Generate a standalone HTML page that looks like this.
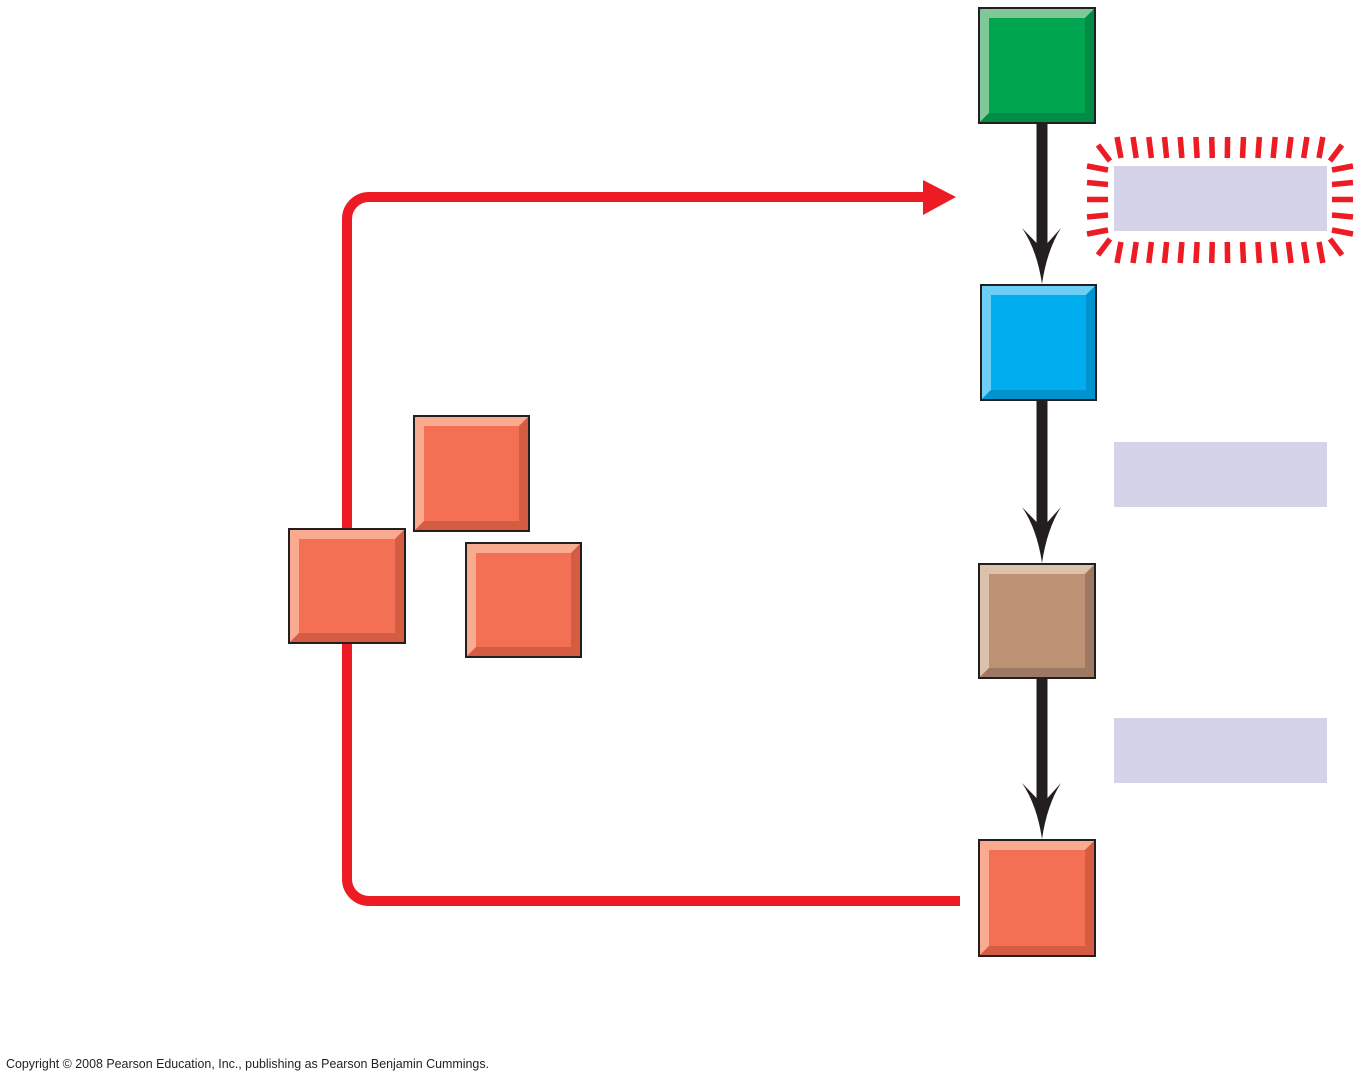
<!DOCTYPE html>
<html><head><meta charset="utf-8"><style>
html,body{margin:0;padding:0;background:#fff;}
svg{display:block;}
</style></head><body>
<svg width="1360" height="1080" viewBox="0 0 1360 1080" xmlns="http://www.w3.org/2000/svg">
<rect width="1360" height="1080" fill="#fff"/>

<!-- red feedback path -->
<path d="M960,901 H369 A22,22 0 0 1 347,879 V219 A22,22 0 0 1 369,197 H926" fill="none" stroke="#ed1c24" stroke-width="10"/>
<polygon points="923,180 956,197 923,215" fill="#ed1c24"/>

<!-- black arrows -->
<g fill="#231f20">
  <rect x="1036.5" y="122" width="11" height="125"/>
  <path d="M1036.5,243 L1022,228 Q1037,250 1042,284 Q1047,250 1061,228 L1047.5,243 Z"/>
  <rect x="1036.5" y="400" width="11" height="126"/>
  <path d="M1036.5,522 L1022,507 Q1037,529 1042,563 Q1047,529 1061,507 L1047.5,522 Z"/>
  <rect x="1036.5" y="678" width="11" height="125"/>
  <path d="M1036.5,798 L1022,783 Q1037,805 1042,839 Q1047,805 1061,783 L1047.5,798 Z"/>
</g>

<!-- lavender boxes -->
<rect x="1114" y="166" width="213" height="65" fill="#d4d3e8"/>
<rect x="1114" y="442" width="213" height="65" fill="#d4d3e8"/>
<rect x="1114" y="718" width="213" height="65" fill="#d4d3e8"/>

<!-- red ticks around first box -->
<g stroke="#ed1c24" stroke-width="5.5" fill="none">
  <!-- top -->
  <line x1="1117" y1="137" x2="1121" y2="158"/>
  <line x1="1133" y1="137" x2="1136.2" y2="158"/>
  <line x1="1148.8" y1="137" x2="1151.4" y2="158"/>
  <line x1="1164.5" y1="137" x2="1166.6" y2="158"/>
  <line x1="1180.2" y1="137" x2="1181.9" y2="158"/>
  <line x1="1195.9" y1="137" x2="1197.1" y2="158"/>
  <line x1="1211.7" y1="137" x2="1212.3" y2="158"/>
  <line x1="1227.6" y1="137" x2="1227.3" y2="158"/>
  <line x1="1243.5" y1="137" x2="1242.5" y2="158"/>
  <line x1="1259.4" y1="137" x2="1257.9" y2="158"/>
  <line x1="1275.2" y1="137" x2="1273.1" y2="158"/>
  <line x1="1291" y1="137" x2="1288.4" y2="158"/>
  <line x1="1306.9" y1="137" x2="1303.7" y2="158"/>
  <line x1="1322.8" y1="137" x2="1319" y2="158"/>
  <!-- bottom -->
  <line x1="1121" y1="242" x2="1117" y2="263"/>
  <line x1="1136.2" y1="242" x2="1133" y2="263"/>
  <line x1="1151.4" y1="242" x2="1148.8" y2="263"/>
  <line x1="1166.6" y1="242" x2="1164.5" y2="263"/>
  <line x1="1181.9" y1="242" x2="1180.2" y2="263"/>
  <line x1="1197.1" y1="242" x2="1195.9" y2="263"/>
  <line x1="1212.3" y1="242" x2="1211.7" y2="263"/>
  <line x1="1227.3" y1="242" x2="1227.6" y2="263"/>
  <line x1="1242.5" y1="242" x2="1243.5" y2="263"/>
  <line x1="1257.9" y1="242" x2="1259.4" y2="263"/>
  <line x1="1273.1" y1="242" x2="1275.2" y2="263"/>
  <line x1="1288.4" y1="242" x2="1291" y2="263"/>
  <line x1="1303.7" y1="242" x2="1306.9" y2="263"/>
  <line x1="1319" y1="242" x2="1322.8" y2="263"/>
  <!-- left -->
  <line x1="1087" y1="166" x2="1108" y2="170"/>
  <line x1="1087" y1="182.5" x2="1108" y2="184.5"/>
  <line x1="1087" y1="199.5" x2="1108" y2="199.5"/>
  <line x1="1087" y1="217" x2="1108" y2="215"/>
  <line x1="1087" y1="234" x2="1108" y2="230"/>
  <!-- right -->
  <line x1="1353" y1="166" x2="1332" y2="170"/>
  <line x1="1353" y1="182.5" x2="1332" y2="184.5"/>
  <line x1="1353" y1="199.5" x2="1332" y2="199.5"/>
  <line x1="1353" y1="217" x2="1332" y2="215"/>
  <line x1="1353" y1="234" x2="1332" y2="230"/>
  <!-- corners -->
  <line x1="1098" y1="145" x2="1110" y2="161"/>
  <line x1="1342" y1="145" x2="1330" y2="161"/>
  <line x1="1098" y1="255" x2="1110" y2="239"/>
  <line x1="1342" y1="255" x2="1330" y2="239"/>
</g>

<!-- beveled squares -->
<!-- green -->
<g>
  <rect x="979" y="8" width="116" height="115" fill="#00a54f"/>
  <polygon points="979,8 1095,8 1085,18 989,18" fill="#7ec89a"/>
  <polygon points="979,8 989,18 989,113 979,123" fill="#7ec89a"/>
  <polygon points="1095,8 1095,123 1085,113 1085,18" fill="#008c44"/>
  <polygon points="979,123 1095,123 1085,113 989,113" fill="#008c44"/>
  <rect x="979" y="8" width="116" height="115" fill="none" stroke="#231f20" stroke-width="2"/>
</g>
<!-- blue -->
<g>
  <rect x="981" y="285" width="115" height="115" fill="#00aeef"/>
  <polygon points="981,285 1096,285 1086,295 991,295" fill="#6dcff6"/>
  <polygon points="981,285 991,295 991,390 981,400" fill="#6dcff6"/>
  <polygon points="1096,285 1096,400 1086,390 1086,295" fill="#0093d0"/>
  <polygon points="981,400 1096,400 1086,390 991,390" fill="#0093d0"/>
  <rect x="981" y="285" width="115" height="115" fill="none" stroke="#231f20" stroke-width="2"/>
</g>
<!-- brown -->
<g>
  <rect x="979" y="564" width="116" height="114" fill="#bc9174"/>
  <polygon points="979,564 1095,564 1085,574 989,574" fill="#dbc2ad"/>
  <polygon points="979,564 989,574 989,668 979,678" fill="#dbc2ad"/>
  <polygon points="1095,564 1095,678 1085,668 1085,574" fill="#9e7862"/>
  <polygon points="979,678 1095,678 1085,668 989,668" fill="#9e7862"/>
  <rect x="979" y="564" width="116" height="114" fill="none" stroke="#231f20" stroke-width="2"/>
</g>
<!-- orange bottom -->
<g>
  <rect x="979" y="840" width="116" height="116" fill="#f37054"/>
  <polygon points="979,840 1095,840 1085,850 989,850" fill="#f9ab90"/>
  <polygon points="979,840 989,850 989,946 979,956" fill="#f9ab90"/>
  <polygon points="1095,840 1095,956 1085,946 1085,850" fill="#d35c42"/>
  <polygon points="979,956 1095,956 1085,946 989,946" fill="#d35c42"/>
  <rect x="979" y="840" width="116" height="116" fill="none" stroke="#231f20" stroke-width="2"/>
</g>
<!-- orange left -->
<g>
  <rect x="289" y="529" width="116" height="114" fill="#f37054"/>
  <polygon points="289,529 405,529 395,539 299,539" fill="#f9ab90"/>
  <polygon points="289,529 299,539 299,633 289,643" fill="#f9ab90"/>
  <polygon points="405,529 405,643 395,633 395,539" fill="#d35c42"/>
  <polygon points="289,643 405,643 395,633 299,633" fill="#d35c42"/>
  <rect x="289" y="529" width="116" height="114" fill="none" stroke="#231f20" stroke-width="2"/>
</g>
<!-- orange top middle -->
<g>
  <rect x="414" y="416" width="115" height="115" fill="#f37054"/>
  <polygon points="414,416 529,416 519,426 424,426" fill="#f9ab90"/>
  <polygon points="414,416 424,426 424,521 414,531" fill="#f9ab90"/>
  <polygon points="529,416 529,531 519,521 519,426" fill="#d35c42"/>
  <polygon points="414,531 529,531 519,521 424,521" fill="#d35c42"/>
  <rect x="414" y="416" width="115" height="115" fill="none" stroke="#231f20" stroke-width="2"/>
</g>
<!-- orange right middle -->
<g>
  <rect x="466" y="543" width="115" height="114" fill="#f37054"/>
  <polygon points="466,543 581,543 571,553 476,553" fill="#f9ab90"/>
  <polygon points="466,543 476,553 476,647 466,657" fill="#f9ab90"/>
  <polygon points="581,543 581,657 571,647 571,553" fill="#d35c42"/>
  <polygon points="466,657 581,657 571,647 476,647" fill="#d35c42"/>
  <rect x="466" y="543" width="115" height="114" fill="none" stroke="#231f20" stroke-width="2"/>
</g>

<text x="6" y="1068" font-family="Liberation Sans, Arial, sans-serif" font-size="12.5" fill="#231f20" textLength="483" lengthAdjust="spacingAndGlyphs">Copyright © 2008 Pearson Education, Inc., publishing as Pearson Benjamin Cummings.</text>
</svg>
</body></html>
